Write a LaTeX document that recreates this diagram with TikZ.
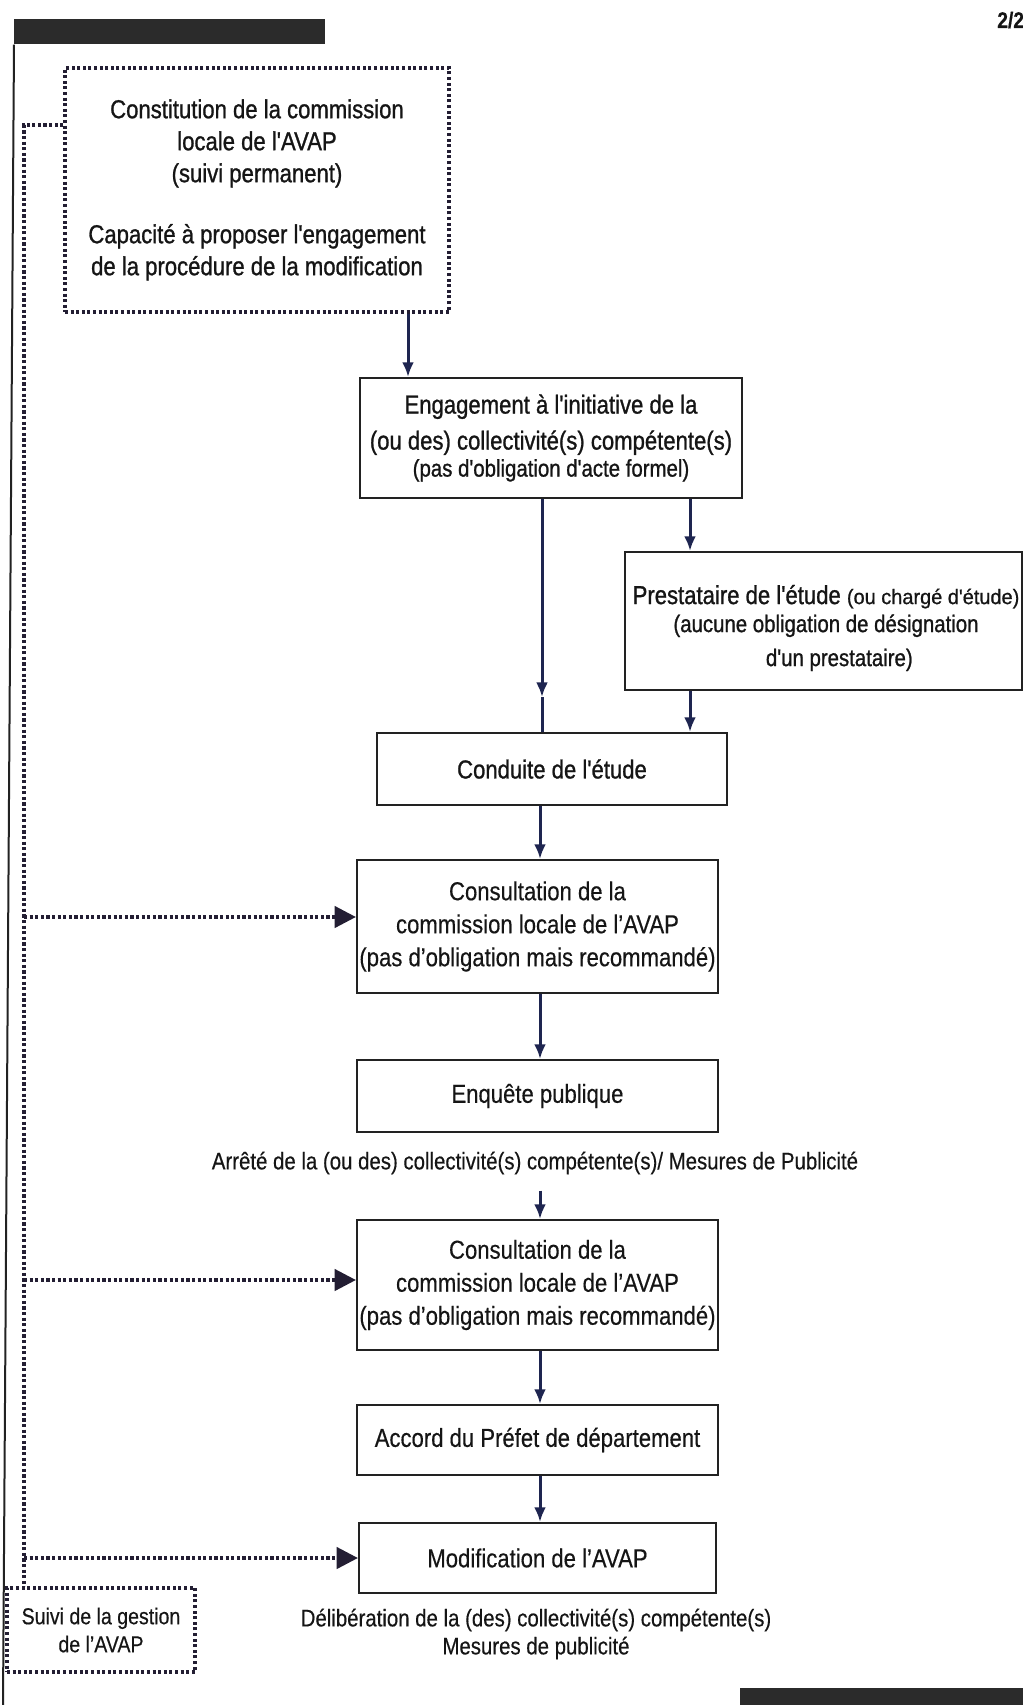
\documentclass[tikz,border=0pt]{standalone}
\usepackage{fontspec}
\setmainfont{Liberation Sans}[FakeStretch=0.85, FakeBold=0.4]
\newfontfamily\heavyF{Liberation Sans}[FakeStretch=0.85, FakeBold=1.0]
\newfontfamily\wideF{Liberation Sans}[FakeStretch=0.95, FakeBold=0.8]
\usetikzlibrary{arrows.meta,calc}
\definecolor{ink}{HTML}{151515}
\definecolor{navy}{HTML}{1E2550}
\definecolor{boxc}{HTML}{222222}
\definecolor{dotc}{HTML}{231E33}
\definecolor{barc}{HTML}{2B2B2B}
\newcommand\myNorm{\fontsize{19.5pt}{24.75pt}\selectfont}
\newcommand\mySmall{\fontsize{18pt}{21pt}\selectfont}
\begin{document}
\begin{tikzpicture}[x=0.75pt, y=-0.75pt,
  box/.style={draw=boxc, line width=1.6pt, rectangle, inner sep=0pt, align=center, text=ink, font=\myNorm},
  dbox/.style={draw=dotc, line width=2.4pt, dash pattern=on 2.2pt off 2pt, rectangle, inner sep=0pt, align=center, text=ink},
  arr/.style={draw=navy, line width=2.25pt, -{Latex[length=11pt,width=9pt]}},
  ln/.style={draw=navy, line width=2.25pt},
  fb/.style={draw=dotc, line width=2.6pt, dash pattern=on 2.4pt off 1.8pt},
  fbarr/.style={fb, -{Triangle[length=16pt,width=16pt]}},
  lbl/.style={align=center, text=ink, font=\mySmall, inner sep=0pt}
]
\useasboundingbox (0,0) rectangle (1023,1705);
\clip (0,0) rectangle (1023,1705);

% page decorations
\node[fill=barc, inner sep=0pt, minimum width=233.25pt, minimum height=18.75pt, anchor=north west] (topbar) at (14,19) {};
\coordinate (pagebottom) at (3,1705);
\draw[draw=boxc, line width=1.5pt] (topbar.south west) -- (pagebottom);
\node[fill=barc, inner sep=0pt, minimum width=212.25pt, minimum height=12.75pt, anchor=north west] (botbar) at (740,1688) {};
\node[anchor=base west, inner sep=0pt, text=ink, font={\fontsize{17pt}{19pt}\selectfont\bfseries}] (pg) at (997,28) {2/2};

% boxes
\node[dbox, minimum width=288pt, minimum height=183pt, font={\heavyF\fontsize{19.5pt}{24pt}\selectfont}] (comm) at (257,190)
  {Constitution de la commission\\locale de l'AVAP\\(suivi permanent)\\[21.75pt]Capacité à proposer l'engagement\\de la procédure de la modification};

\node[box, minimum width=286.5pt, minimum height=90pt, font={\heavyF\fontsize{19.5pt}{27pt}\selectfont}] (eng) at (551,438)
  {Engagement à l'initiative de la\\(ou des) collectivité(s) compétente(s)\\[-6.75pt]{\mySmall (pas d'obligation d'acte formel)}};

\node[box, minimum width=297.75pt, minimum height=103.5pt] (prest) at (823.5,621) {};
\node[lbl, font={\heavyF\fontsize{19.5pt}{25.5pt}\selectfont}] (presttxt) at (826,628)
  {Prestataire de l'étude {\wideF\fontsize{15.75pt}{18pt}\selectfont (ou chargé d'étude)}\\[-4.5pt]{\mySmall (aucune obligation de désignation}\\{\mySmall\hspace*{20pt}d'un prestataire)}};

\node[box, minimum width=262.5pt, minimum height=54pt, font={\heavyF\fontsize{19.5pt}{24pt}\selectfont}] (cond) at (552,769) {Conduite de l'étude};

\node[box, minimum width=270.75pt, minimum height=99.75pt] (cons1) at (537.5,926.5)
  {Consultation de la\\commission locale de l'AVAP\\(pas d'obligation mais recommandé)};

\node[box, minimum width=270.75pt, minimum height=54pt] (enq) at (537.5,1096) {Enquête publique};

\node[lbl] (arrete) at (535,1163) {Arrêté de la (ou des) collectivité(s) compétente(s)/ Mesures de Publicité};

\node[box, minimum width=270.75pt, minimum height=97.5pt] (cons2) at (537.5,1285)
  {Consultation de la\\commission locale de l'AVAP\\(pas d'obligation mais recommandé)};

\node[box, minimum width=270.75pt, minimum height=52.5pt] (accord) at (537.5,1440) {Accord du Préfet de département};

\node[box, minimum width=267.75pt, minimum height=52.5pt] (modif) at (537.5,1558) {Modification de l'AVAP};

\node[lbl] (delib) at (536,1634) {Délibération de la (des) collectivité(s) compétente(s)\\Mesures de publicité};

\node[dbox, minimum width=141pt, minimum height=63pt, font={\fontsize{17.25pt}{21pt}\selectfont}] (suivi) at (101,1630)
  {Suivi de la gestion\\de l'AVAP};

% solid connectors
\coordinate (xa) at (408,0);
\coordinate (xp) at (690,0);
\coordinate (xm) at (542,0);
\coordinate (xc) at (540,0);
\coordinate (mid) at (542,697);
\draw[arr] (comm.south -| xa) -- (eng.north -| xa);
\draw[arr] (eng.south -| xp) -- (prest.north -| xp);
\draw[arr] (eng.south -| xm) -- (mid);
\draw[ln] (mid) -- (cond.north -| mid);
\draw[arr] (prest.south -| xp) -- (cond.north -| xp);
\draw[arr] (cond.south -| xc) -- (cons1.north -| xc);
\draw[arr] (cons1.south -| xc) -- (enq.north -| xc);
\draw[arr] ([yshift=-12pt]arrete.south -| xc) -- (cons2.north -| xc);
\draw[arr] (cons2.south -| xc) -- (accord.north -| xc);
\draw[arr] (accord.south -| xc) -- (modif.north -| xc);

% feedback dotted connectors
\coordinate (fbtop) at (24,125);
\draw[fb] (comm.west |- fbtop) -- (fbtop) -- (fbtop |- suivi.north);
\coordinate (b1) at (24,917);
\coordinate (b2) at (24,1280);
\coordinate (b3) at (24,1558);
\draw[fbarr] (b1) -- (b1 -| cons1.west);
\draw[fbarr] (b2) -- (b2 -| cons2.west);
\draw[fbarr] (b3) -- (b3 -| modif.west);
\end{tikzpicture}
\end{document}
